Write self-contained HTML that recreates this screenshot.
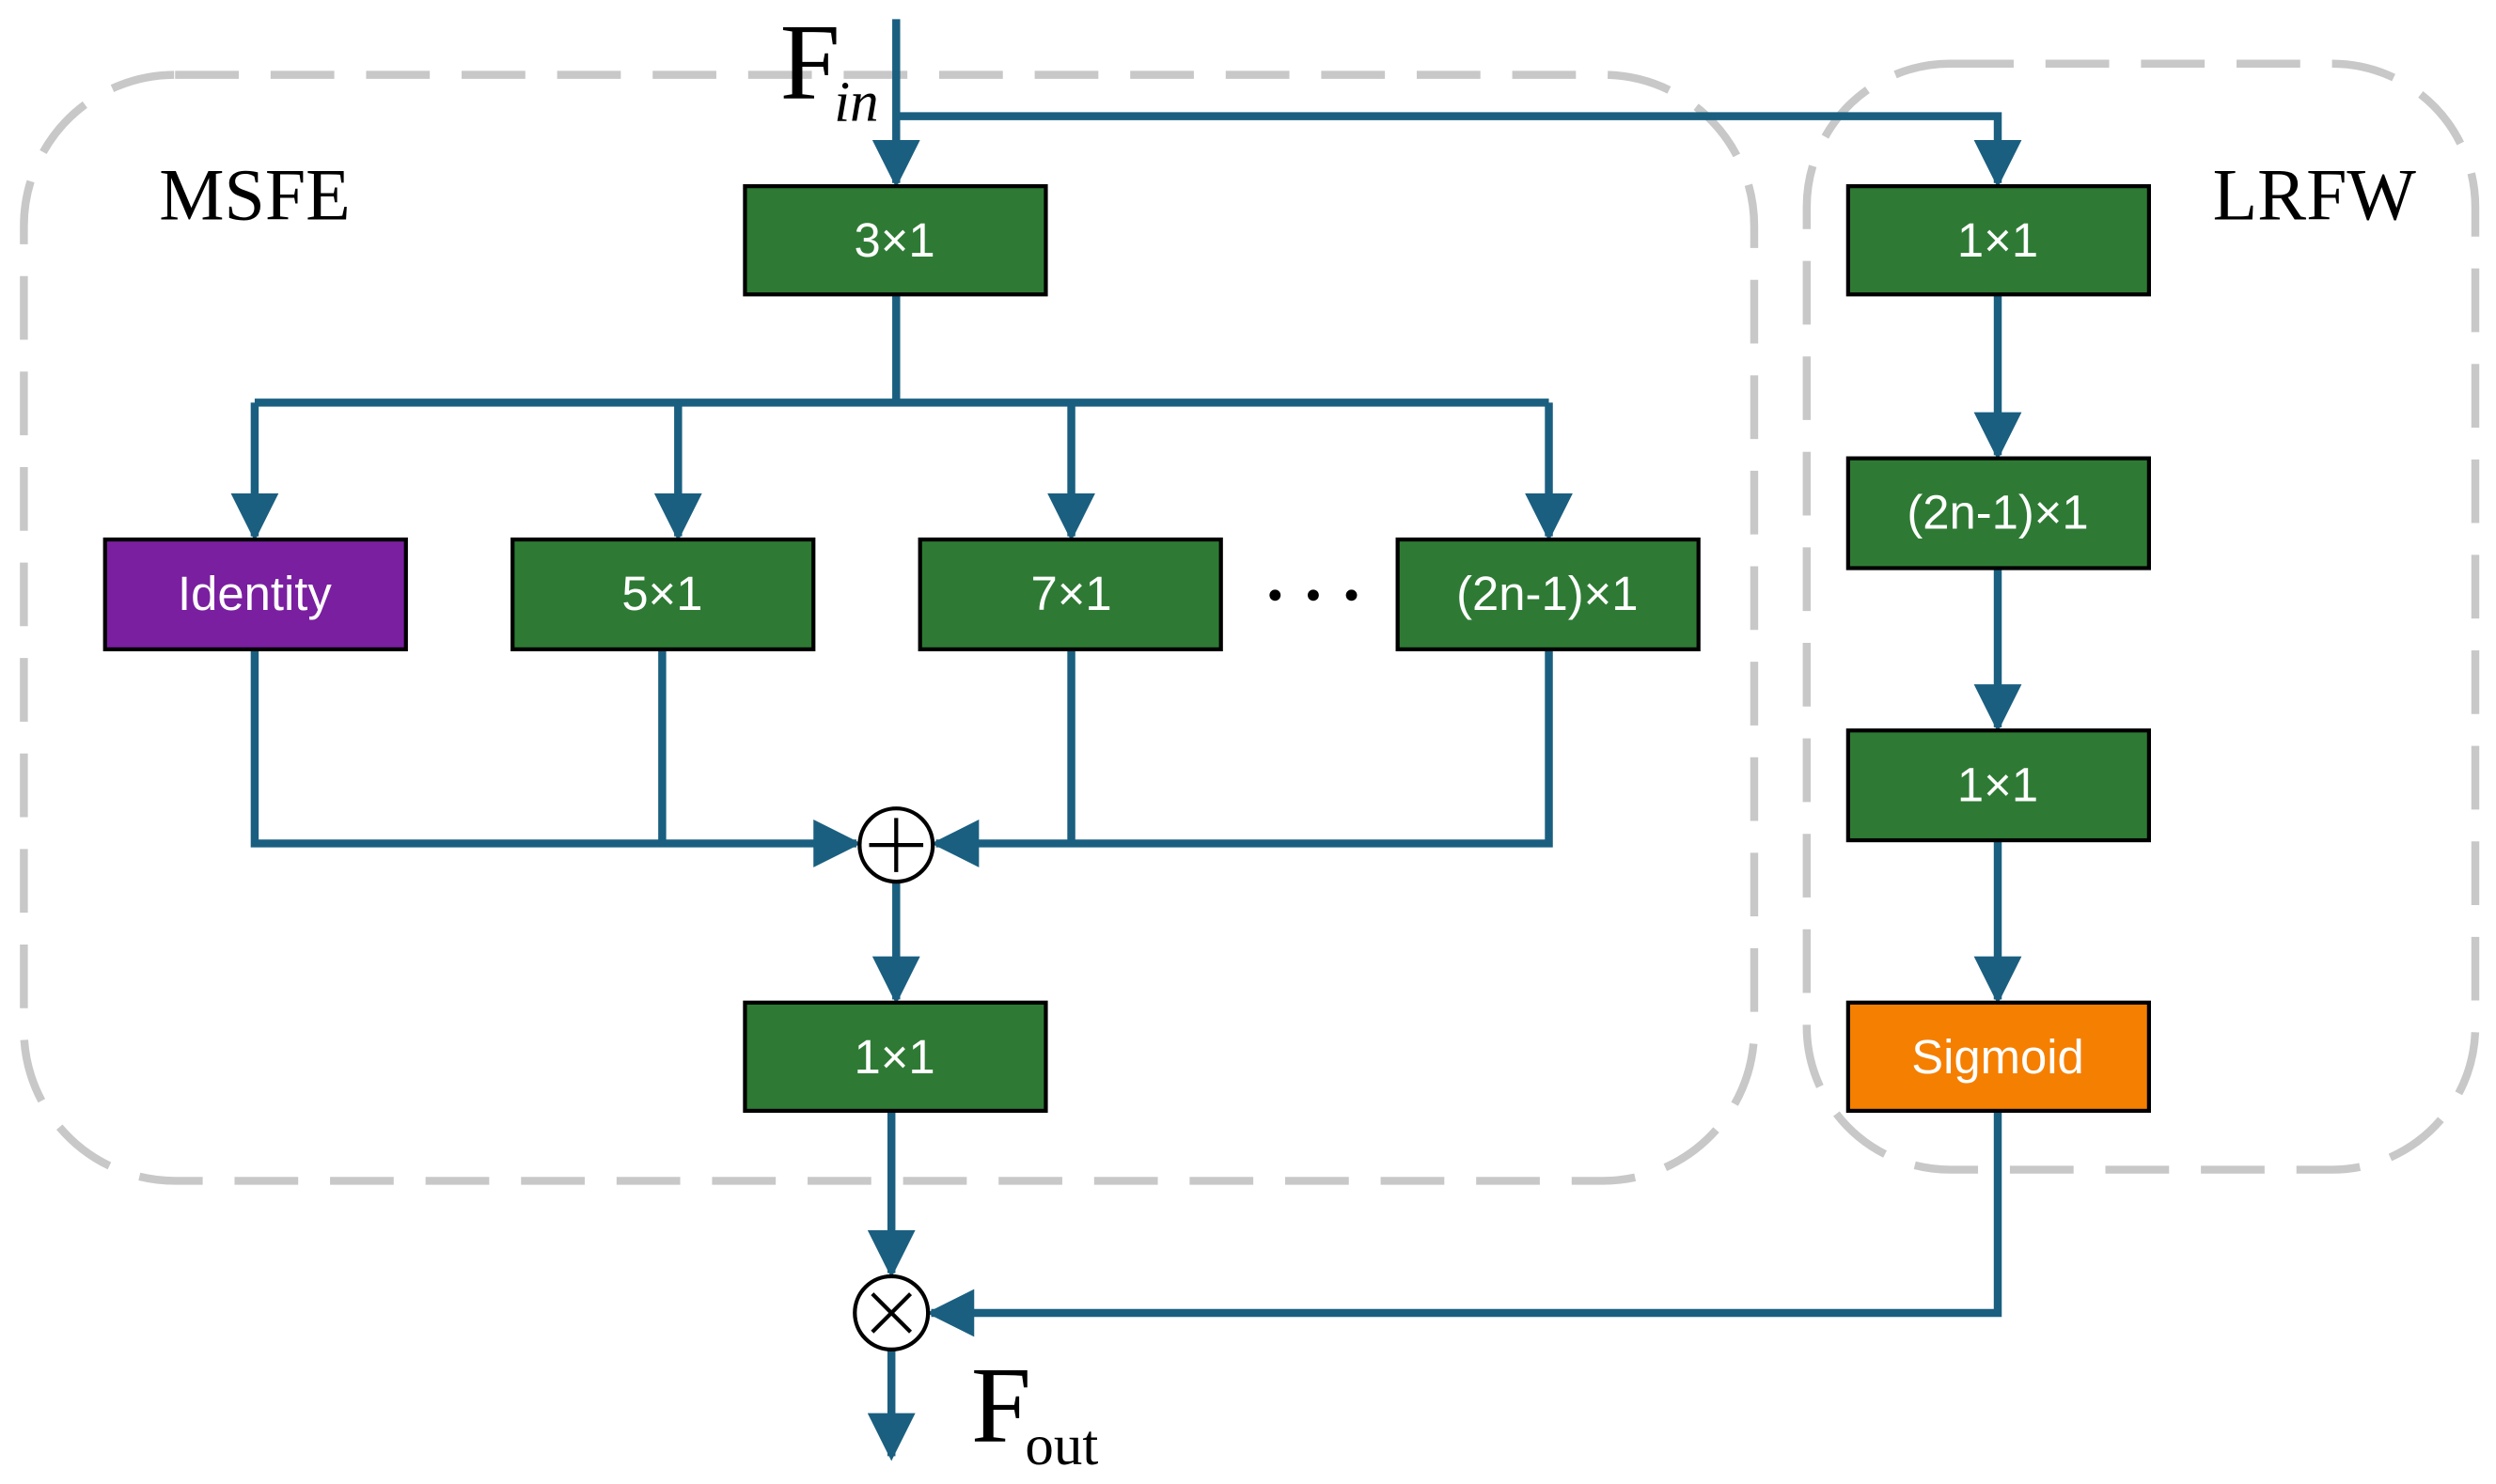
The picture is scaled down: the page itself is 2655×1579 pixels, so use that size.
<!DOCTYPE html>
<html><head><meta charset="utf-8">
<style>
html,body{margin:0;padding:0;background:#fff;width:2655px;height:1579px;overflow:hidden}
svg{display:block}
.bt{font-family:"Liberation Sans",sans-serif;font-size:30px;fill:#fff;text-anchor:middle;dominant-baseline:central}
.lab{font-family:"Liberation Serif",serif;fill:#000}
</style></head><body>
<svg width="2655" height="1579" viewBox="0 0 1568 932.5" preserveAspectRatio="none" xmlns="http://www.w3.org/2000/svg">
<defs>
<marker id="a" viewBox="0 0 10 10" refX="9" refY="5" markerWidth="6" markerHeight="6" orient="auto" markerUnits="strokeWidth">
<path d="M0,0 L10,5 L0,10 z" fill="#1a5f80"/></marker>
</defs>
<rect x="15" y="47" width="1087" height="695" rx="95" fill="none" stroke="#c8c8c8" stroke-width="5" stroke-dasharray="40,20"/>
<rect x="1135" y="40" width="420" height="695" rx="90" fill="none" stroke="#c8c8c8" stroke-width="5" stroke-dasharray="40,20"/>
<g stroke="#1a5f80" stroke-width="5" fill="none">
<line x1="563" y1="12" x2="563" y2="115" marker-end="url(#a)"/>
<polyline points="563,73 1255,73 1255,115" marker-end="url(#a)"/>
<line x1="563" y1="185" x2="563" y2="253"/>
<line x1="160" y1="253" x2="973" y2="253"/>
<line x1="160" y1="253" x2="160" y2="337" marker-end="url(#a)"/>
<line x1="426" y1="253" x2="426" y2="337" marker-end="url(#a)"/>
<line x1="673" y1="253" x2="673" y2="337" marker-end="url(#a)"/>
<line x1="973" y1="253" x2="973" y2="337" marker-end="url(#a)"/>
<polyline points="160,408 160,530 538,530" marker-end="url(#a)"/>
<line x1="416" y1="408" x2="416" y2="530"/>
<polyline points="973,408 973,530 588,530" marker-end="url(#a)"/>
<line x1="673" y1="408" x2="673" y2="530"/>
<line x1="563" y1="554" x2="563" y2="628" marker-end="url(#a)"/>
<line x1="560" y1="698" x2="560" y2="800" marker-end="url(#a)"/>
<line x1="560" y1="848" x2="560" y2="915" marker-end="url(#a)"/>
<line x1="1255" y1="185" x2="1255" y2="286" marker-end="url(#a)"/>
<line x1="1255" y1="357" x2="1255" y2="457" marker-end="url(#a)"/>
<line x1="1255" y1="528" x2="1255" y2="628" marker-end="url(#a)"/>
<polyline points="1255,698 1255,825 585,825" marker-end="url(#a)"/>
</g>
<g stroke="#000" stroke-width="2.5">
<rect x="468" y="117" width="189" height="68" fill="#2e7a34"/>
<rect x="66" y="339" width="189" height="69" fill="#7a1fa0"/>
<rect x="322" y="339" width="189" height="69" fill="#2e7a34"/>
<rect x="578" y="339" width="189" height="69" fill="#2e7a34"/>
<rect x="878" y="339" width="189" height="69" fill="#2e7a34"/>
<rect x="468" y="630" width="189" height="68" fill="#2e7a34"/>
<rect x="1161" y="117" width="189" height="68" fill="#2e7a34"/>
<rect x="1161" y="288" width="189" height="69" fill="#2e7a34"/>
<rect x="1161" y="459" width="189" height="69" fill="#2e7a34"/>
<rect x="1161" y="630" width="189" height="68" fill="#f57f00"/>
</g>
<text class="bt" x="562" y="151">3×1</text>
<text class="bt" x="160" y="373">Identity</text>
<text class="bt" x="416" y="373">5×1</text>
<text class="bt" x="673" y="373">7×1</text>
<text class="bt" x="972" y="373">(2n-1)×1</text>
<text class="bt" x="562" y="664">1×1</text>
<text class="bt" x="1255" y="151">1×1</text>
<text class="bt" x="1255" y="322">(2n-1)×1</text>
<text class="bt" x="1255" y="493">1×1</text>
<text class="bt" x="1255" y="664">Sigmoid</text>
<circle cx="801" cy="374" r="3.5" fill="#000"/>
<circle cx="825" cy="374" r="3.5" fill="#000"/>
<circle cx="849" cy="374" r="3.5" fill="#000"/>
<g stroke="#000" stroke-width="2.5" fill="#fff">
<circle cx="563" cy="531" r="23"/>
<circle cx="560" cy="825" r="23"/>
</g>
<g stroke="#000" stroke-width="2.5">
<line x1="563" y1="514" x2="563" y2="548"/><line x1="546" y1="531" x2="580" y2="531"/>
<line x1="548" y1="813" x2="572" y2="837"/><line x1="572" y1="813" x2="548" y2="837"/>
</g>
<text class="lab" x="100" y="138" font-size="46">MSFE</text>
<text class="lab" x="1390" y="138" font-size="46">LRFW</text>
<text class="lab" x="490" y="62" font-size="68">F</text>
<text class="lab" x="524" y="76" font-size="36" font-style="italic">in</text>
<text class="lab" x="610" y="906" font-size="68">F</text>
<text class="lab" x="644" y="920" font-size="36">out</text>
</svg>
</body></html>
